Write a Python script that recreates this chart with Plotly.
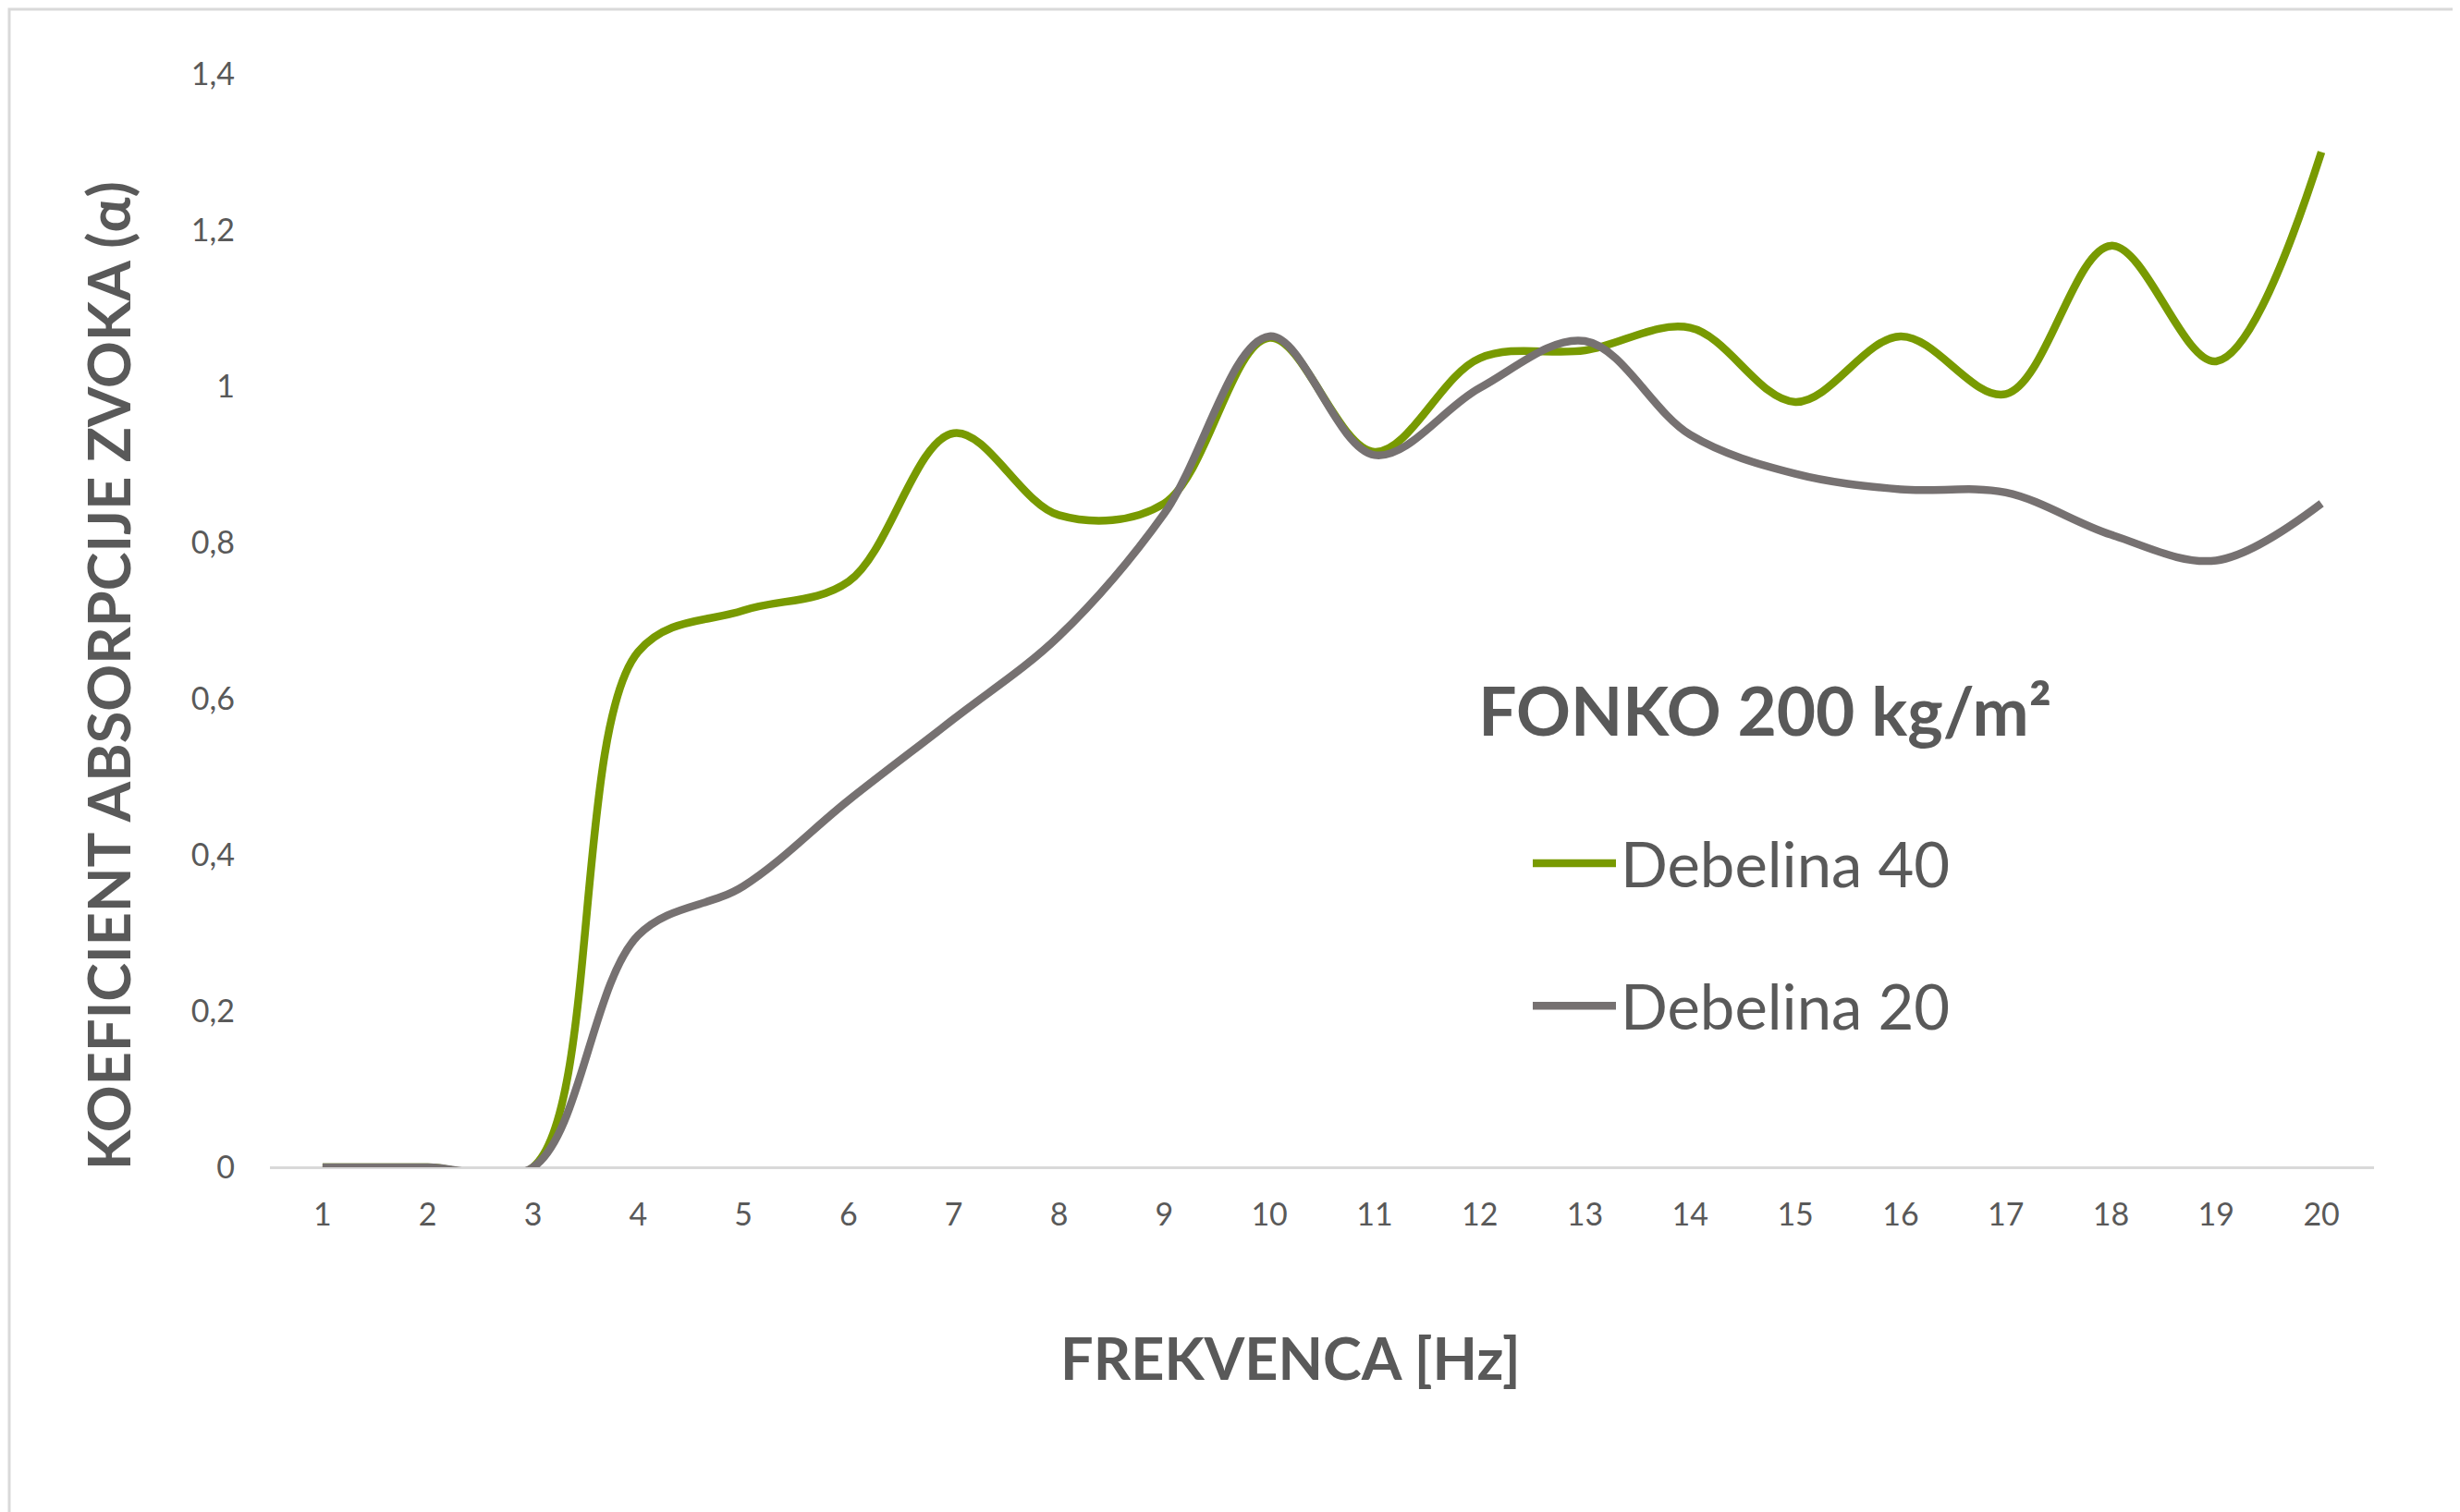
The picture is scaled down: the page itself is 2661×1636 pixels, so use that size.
import plotly.graph_objects as go

# frequency steps on the category axis
frekvenca = list(range(1, 21))

# absorption coefficient
debelina_40 = [0, 0, 0, 0.66, 0.713, 0.75, 0.94, 0.835, 0.85, 1.062,
               0.916, 1.036, 1.046, 1.075, 0.98, 1.064, 0.99, 1.18, 1.032, 1.30]
debelina_20 = [0, 0, 0, 0.297, 0.36, 0.47, 0.574, 0.68, 0.837, 1.064,
               0.912, 0.998, 1.058, 0.938, 0.888, 0.868, 0.864, 0.81, 0.777, 0.85]

y_ticks = [0, 0.2, 0.4, 0.6, 0.8, 1, 1.2, 1.4]

series = [
  ("Debelina 40", debelina_40, "#789A01"),
  ("Debelina 20", debelina_20, "#767171"),
]

TXT = "#595959"
FONT = "Lato"

W, H = 2661, 1636
L, R, T, B = 284, 101, 72, 381
PW, PH = W - L - R, H - T - B


def px(x, y):
  # pixel position in the page -> paper coordinates
  return (x - L) / PW, (H - B - y) / PH


fig = go.Figure()
for i, (name, vals, col) in enumerate(series):
  fig.add_trace(go.Scatter(
    x=frekvenca, y=vals, name=name, mode="lines",
    line=dict(color=col, width=8.5, shape="spline", smoothing=1.0),
    legendgroup=f"g{i}",
  ))

lx, ly = px(1645, 876)
fig.update_layout(
  width=W, height=H,
  margin=dict(l=L, r=R, t=T, b=B),
  paper_bgcolor="white", plot_bgcolor="white",
  separators=", ",
  font=dict(family=FONT, color=TXT),
  title=dict(text="<b>FONKO 200 kg/m²</b>", font=dict(size=73, color=TXT, family=FONT),
             x=0.598, xanchor="left", y=0.534, yanchor="middle"),
  legend=dict(x=lx, xanchor="left", y=ly, yanchor="top",
              font=dict(size=67, color=TXT, family=FONT),
              tracegroupgap=64, itemwidth=90, bgcolor="rgba(0,0,0,0)"),
  showlegend=True,
)

fig.update_xaxes(
  type="linear", range=[0.5, 20.5], tickvals=frekvenca, ticks="",
  showgrid=False, zeroline=False, showline=False,
  tickfont=dict(size=34, color=TXT, family=FONT),
  ticklabelstandoff=28,
)
fig.update_yaxes(
  range=[0, 1.4], tickvals=y_ticks, ticks="",
  showgrid=False, zeroline=True, zerolinecolor="#D9D9D9", zerolinewidth=3,
  showline=False,
  tickfont=dict(size=34, color=TXT, family=FONT),
  ticklabelstandoff=37,
)

# axis titles
ax, ay = px(1388, 1460)
fig.add_annotation(text="<b>FREKVENCA [Hz]</b>", xref="paper", yref="paper", x=ax, y=ay,
                   showarrow=False, xanchor="center", yanchor="middle",
                   font=dict(size=63, color=TXT, family=FONT))
ax, ay = px(109, 723)
fig.add_annotation(text="<b>KOEFICIENT ABSORPCIJE ZVOKA (α)</b>", xref="paper", yref="paper", x=ax, y=ay,
                   showarrow=False, textangle=-90, xanchor="center", yanchor="middle",
                   font=dict(size=63, color=TXT, family=FONT))

# thin frame round the whole chart
x0, y0 = px(2, H - 2)
x1, y1 = px(W - 2, 2)
fig.add_shape(type="rect", xref="paper", yref="paper", x0=x0, x1=x1, y0=y0, y1=y1,
              line=dict(color="#D9D9D9", width=3))

fig.write_html("out.html")
